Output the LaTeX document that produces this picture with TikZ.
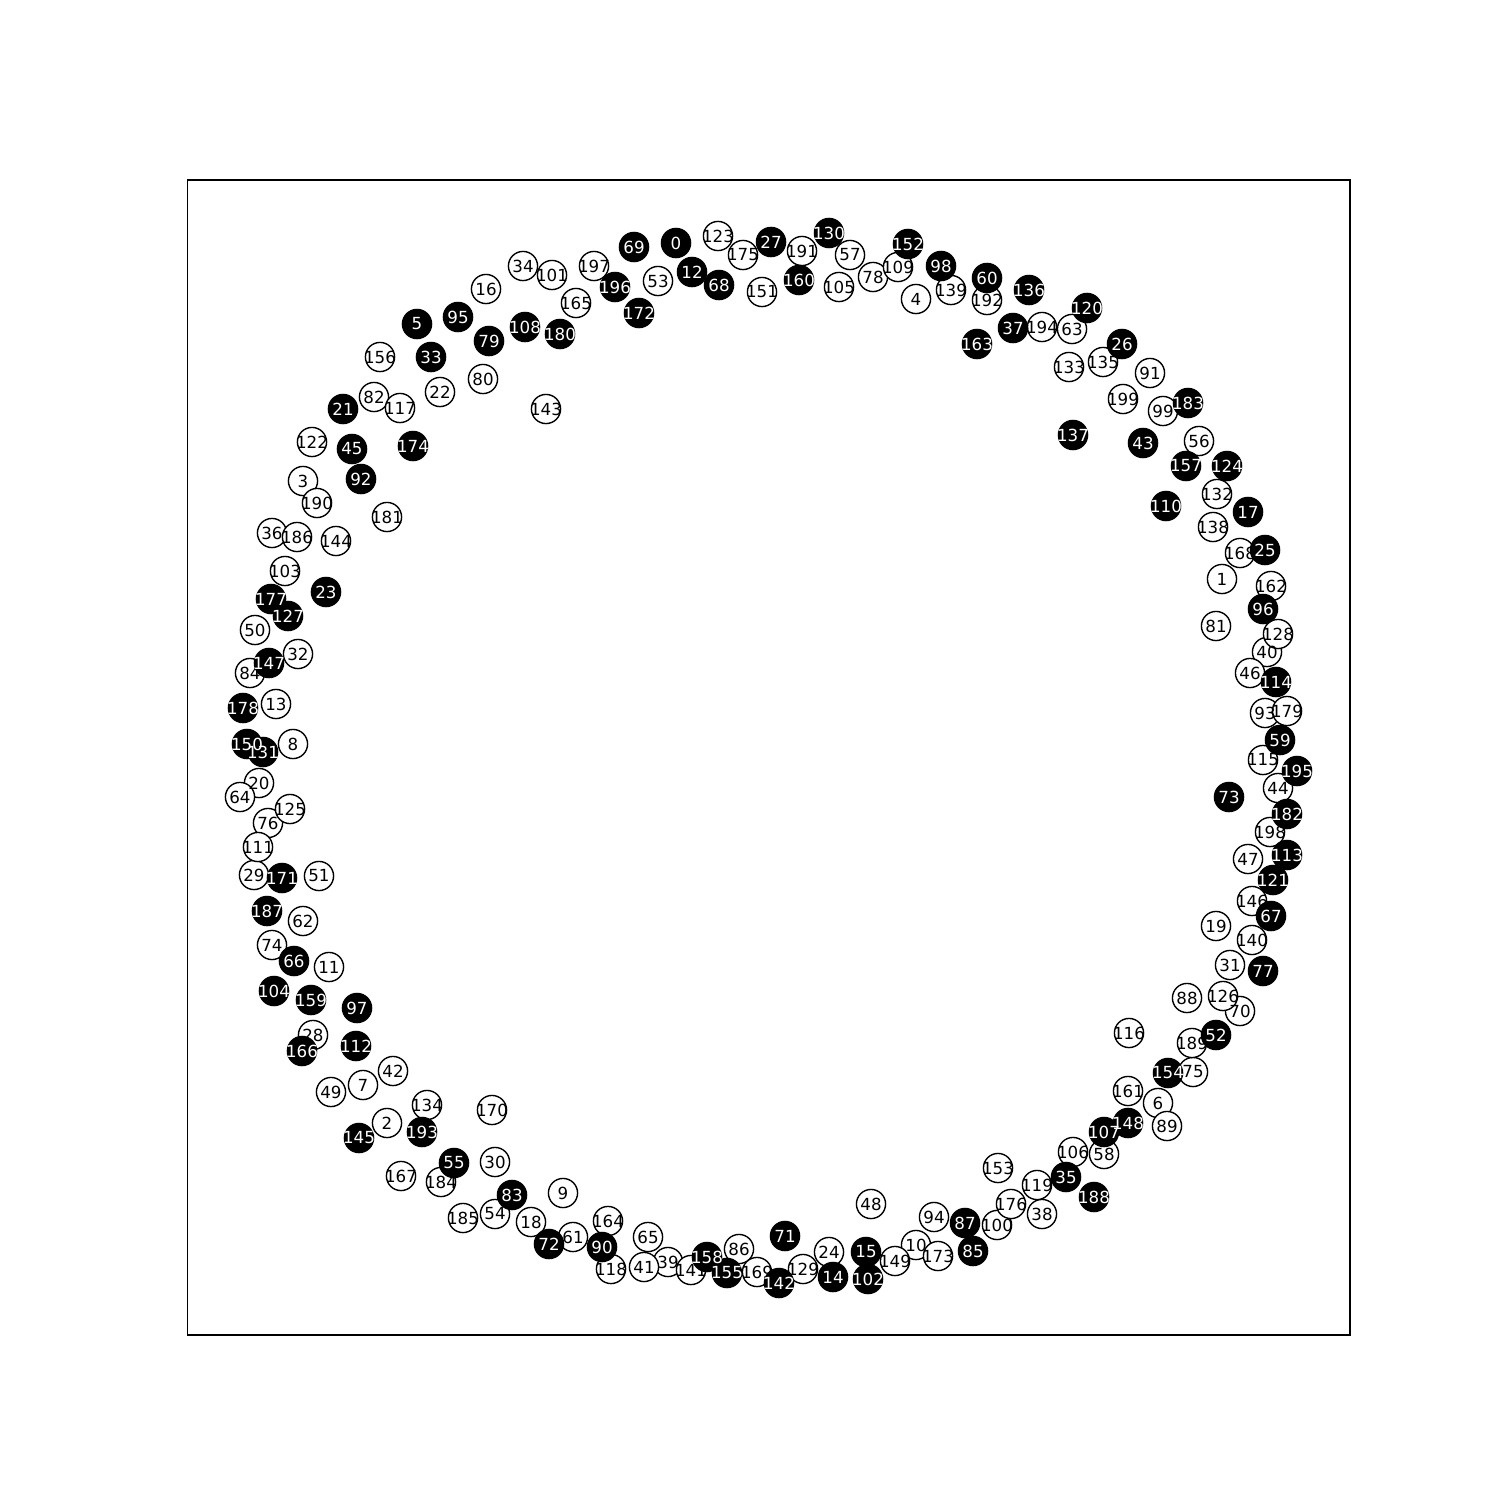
\documentclass[tikz,border=0pt]{standalone}
\usepackage{fontspec}
\newfontfamily\dvs{DejaVu Sans}
\begin{document}
\begin{tikzpicture}[x=0.72pt,y=-0.72pt,
  wnode/.style={circle,draw=black,fill=white,line width=1pt,minimum size=21pt,inner sep=0pt},
  bnode/.style={circle,draw=black,fill=black,line width=1pt,minimum size=21pt,inner sep=0pt},
  wlab/.style={inner sep=0pt,text=black,font=\dvs\fontsize{12}{12}\selectfont},
  blab/.style={inner sep=0pt,text=white,font=\dvs\fontsize{12}{12}\selectfont}]
\useasboundingbox (0,0) rectangle (1500,1500);
\fill[white] (0,0) rectangle (1500,1500);
\draw[line width=0.8pt] (187.5,180) rectangle (1350,1335);
\def\whitelist{1/1222/579, 2/387/1123, 3/303/481, 4/916/299, 6/1158/1103, 7/363/1085, 8/293/744, 9/563/1193, 10/916/1245, 11/329/967, 13/276/704, 16/486/289, 18/531/1222, 19/1216/926, 20/259/783, 22/440/392, 24/829/1252, 28/313/1035, 29/254/875, 30/495/1162, 31/1230/965, 32/298/654, 34/523/266, 36/272/533, 38/1042/1214, 39/668/1262, 40/1267/652, 41/644/1267, 42/393/1071, 44/1278/788, 46/1250/673, 47/1248/859, 48/871/1204, 49/331/1092, 50/255/630, 51/319/876, 53/658/281, 54/495/1214, 56/1199/441, 57/850/255, 58/1104/1154, 61/573/1237, 62/303/921, 63/1072/329, 64/240/797, 65/648/1237, 70/1240/1011, 74/272/945, 75/1193/1072, 76/268/823, 78/873/277, 80/483/379, 81/1216/626, 82/374/397, 84/250/673, 86/739/1249, 88/1187/998, 89/1167/1126, 91/1150/373, 93/1265/713, 94/934/1217, 99/1163/411, 100/997/1225, 101/552/275, 103/285/571, 105/839/287, 106/1073/1152, 109/898/267, 111/258/847, 115/1263/760, 116/1129/1033, 117/400/408, 118/611/1269, 119/1037/1185, 122/312/442, 123/718/236, 125/290/809, 126/1223/996, 128/1278/634, 129/803/1269, 132/1217/494, 133/1069/367, 134/427/1105, 135/1103/362, 138/1213/527, 139/951/290, 140/1252/940, 141/691/1270, 143/546/409, 144/336/541, 146/1252/901, 149/895/1261, 151/762/292, 153/998/1168, 156/380/357, 161/1128/1091, 162/1271/586, 164/608/1221, 165/576/303, 167/401/1176, 168/1240/553, 169/757/1272, 170/492/1110, 173/938/1256, 175/743/255, 176/1011/1204, 179/1287/711, 181/387/517, 184/441/1182, 185/463/1218, 186/297/537, 189/1192/1043, 190/317/503, 191/802/251, 192/987/300, 194/1042/327, 197/594/266, 198/1270/832, 199/1123/399}
\def\blacklist{0/676/243, 5/417/324, 12/692/272, 14/833/1277, 15/866/1252, 17/1248/512, 21/343/409, 23/326/592, 25/1265/550, 26/1122/344, 27/771/242, 33/431/357, 35/1066/1177, 37/1013/328, 43/1143/443, 45/352/449, 52/1216/1035, 55/454/1163, 59/1280/740, 60/987/278, 66/294/961, 67/1271/916, 68/719/285, 69/634/247, 71/785/1236, 72/549/1244, 73/1229/797, 77/1263/971, 79/489/341, 83/512/1195, 85/973/1251, 87/965/1223, 90/602/1247, 92/361/479, 95/458/317, 96/1263/609, 97/357/1008, 98/941/266, 102/868/1279, 104/274/991, 107/1104/1132, 108/525/327, 110/1166/506, 112/356/1046, 113/1287/855, 114/1276/682, 120/1087/308, 121/1273/880, 124/1227/466, 127/288/616, 130/829/233, 131/263/752, 136/1029/290, 137/1073/435, 142/779/1283, 145/359/1138, 147/269/663, 148/1128/1123, 150/247/744, 152/908/244, 154/1168/1073, 155/727/1273, 157/1186/466, 158/707/1257, 159/311/1000, 160/799/280, 163/977/344, 166/302/1051, 171/282/878, 172/639/313, 174/413/446, 177/271/599, 178/243/708, 180/560/334, 182/1287/814, 183/1188/403, 187/267/911, 188/1094/1197, 193/422/1132, 195/1297/771, 196/615/287}
% circles
\foreach \n/\x/\y in \whitelist { \node[wnode] (n\n) at (\x,\y) {}; }
\foreach \n/\x/\y in \blacklist { \node[bnode] (n\n) at (\x,\y) {}; }
% labels
\foreach \n/\x/\y in \whitelist { \node[wlab] (t\n) at (n\n.center) {\n}; }
\foreach \n/\x/\y in \blacklist { \node[blab] (t\n) at (n\n.center) {\n}; }
\end{tikzpicture}
\end{document}
